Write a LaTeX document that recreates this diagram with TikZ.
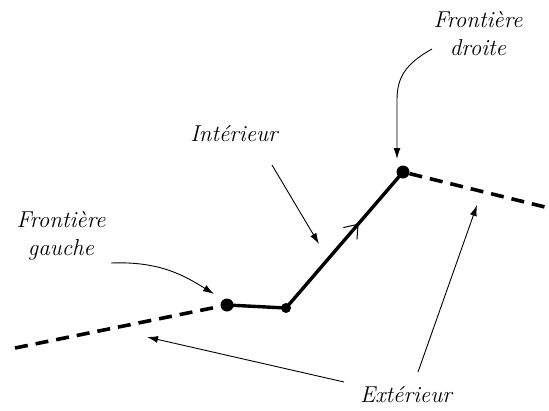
\documentclass[tikz,border=0pt]{standalone}
\usetikzlibrary{arrows.meta,decorations.markings}
\begin{document}
\begin{tikzpicture}[x=1pt,y=-1pt,
  lbl/.style={font=\fontsize{23}{28}\selectfont\itshape, align=center, inner sep=0pt, anchor=base},
  bigdot/.style={circle, fill=black, minimum size=13pt, inner sep=0pt},
  smalldot/.style={circle, fill=black, minimum size=10pt, inner sep=0pt},
  seg/.style={line width=3.4pt},
  dashline/.style={line width=3.6pt, dash pattern=on 13pt off 8pt},
  pointer/.style={line width=0.9pt, -{Latex[length=11pt,width=7pt]}},
  dirmark/.style={decoration={markings, mark=at position 0.62 with {\arrow{Straight Barb[length=12pt,width=18pt,line width=1pt]}}}, postaction={decorate}}
]
\useasboundingbox (0,0) rectangle (549,410);
\node[bigdot] (L) at (227,305) {};
\node[smalldot] (M) at (286,308) {};
\node[bigdot] (R) at (403,172) {};
\coordinate (LE) at (15,348);
\coordinate (RE) at (549,208);
\draw[dashline] (LE) -- (L);
\draw[dashline] (R) -- (RE);
\draw[seg] (L.center) -- (M.center);
\draw[seg, dirmark] (M.center) -- (R.center);

\node[lbl] (int) at (234,141) {Intérieur};
\node[lbl] (fg) at (61,255) {Frontière\\gauche};
\node[lbl] (fd) at (478,55) {Frontière\\droite};
\node[lbl] (ext) at (406,402) {Extérieur};

\coordinate (i0) at (272,165);
\coordinate (i1) at (319,244);
\draw[pointer] (i0) -- (i1);

\coordinate (g0) at (111,263);
\coordinate (g1) at (214,294);
\draw[pointer] (g0) .. controls (160,261) and (185,276) .. (g1);

\coordinate (d0) at (432,49);
\coordinate (d1) at (397,159);
\draw[pointer] (d0) .. controls (405,64) and (397,78) .. (397,100) -- (d1);

\coordinate (e0) at (344,382);
\coordinate (e1) at (147,337);
\draw[pointer] (e0) -- (e1);
\coordinate (f0) at (418,372);
\coordinate (f1) at (477,205);
\draw[pointer] (f0) -- (f1);
\end{tikzpicture}
\end{document}
